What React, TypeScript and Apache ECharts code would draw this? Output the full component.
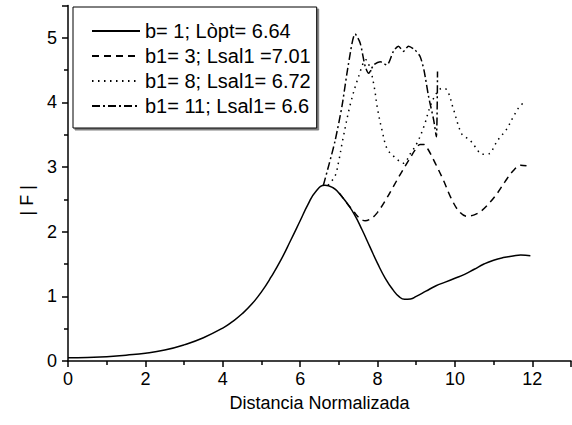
import React, { useEffect, useRef } from "react";
import * as echarts from "echarts";

const solidX = [0, 0.5, 1, 1.5, 2, 2.5, 3, 3.5, 4, 4.25, 4.5, 4.75, 5, 5.25, 5.5, 5.75, 6, 6.2, 6.4, 6.64, 6.85, 7.0, 7.2, 7.4, 7.6, 7.8, 8.0, 8.2, 8.4, 8.55, 8.7, 8.85, 9.0, 9.25, 9.5, 9.75, 10, 10.25, 10.5, 10.75, 11, 11.25, 11.5, 11.7, 11.95];
const solidY = [0.05, 0.055, 0.065, 0.09, 0.12, 0.17, 0.25, 0.36, 0.51, 0.61, 0.73, 0.88, 1.07, 1.3, 1.56, 1.86, 2.17, 2.42, 2.62, 2.72, 2.68, 2.6, 2.45, 2.27, 2.03, 1.77, 1.51, 1.28, 1.1, 1.0, 0.955, 0.96, 1.0, 1.08, 1.16, 1.22, 1.28, 1.34, 1.42, 1.5, 1.56, 1.6, 1.625, 1.64, 1.63];

const dashX = [7.01, 7.2, 7.4, 7.55, 7.68, 7.85, 8.0, 8.2, 8.4, 8.6, 8.8, 9.0, 9.1, 9.2, 9.3, 9.5, 9.7, 9.9, 10.1, 10.3, 10.5, 10.7, 10.9, 11.1, 11.3, 11.5, 11.7, 11.85];
const dashY = [2.6, 2.45, 2.3, 2.2, 2.17, 2.21, 2.3, 2.48, 2.69, 2.9, 3.1, 3.29, 3.35, 3.35, 3.28, 3.05, 2.8, 2.52, 2.32, 2.24, 2.26, 2.33, 2.45, 2.6, 2.78, 2.94, 3.03, 3.02];

const dotX = [6.72, 6.9, 7.0, 7.1, 7.3, 7.5, 7.7, 7.82, 7.92, 8.0, 8.12, 8.25, 8.45, 8.67, 8.85, 9.02, 9.2, 9.35, 9.5, 9.67, 9.8, 9.96, 10.18, 10.38, 10.53, 10.7, 10.9, 11.02, 11.15, 11.33, 11.52, 11.65, 11.8];
const dotY = [2.72, 2.86, 3.1, 3.42, 3.98, 4.38, 4.66, 4.5, 4.22, 3.9, 3.56, 3.28, 3.15, 3.06, 3.21, 3.37, 3.63, 3.92, 4.12, 4.22, 4.19, 3.9, 3.51, 3.42, 3.31, 3.2, 3.21, 3.33, 3.45, 3.58, 3.79, 3.92, 4.01];

const ddX = [6.6, 6.75, 6.9, 7.08, 7.25, 7.42, 7.55, 7.68, 7.77, 7.9, 8.07, 8.24, 8.41, 8.54, 8.67, 8.8, 8.97, 9.1, 9.2, 9.32, 9.45, 9.52, 9.55];
const ddY = [2.72, 3.05, 3.4, 3.94, 4.6, 5.06, 4.92, 4.56, 4.45, 4.58, 4.63, 4.58, 4.79, 4.87, 4.79, 4.87, 4.81, 4.71, 4.5, 4.09, 3.73, 3.47, 4.48];

const seriesNames = [
  "b= 1; Lòpt= 6.64",
  "b1= 3; Lsal1 =7.01",
  "b1= 8; Lsal1= 6.72",
  "b1= 11; Lsal1= 6.6",
];

const xTitle = "Distancia Normalizada";
const yTitle = "| F |";

const zip = (xs: number[], ys: number[]) => xs.map((x, i) => [x, ys[i]]);

const FONT = "'Liberation Sans', Arial, Helvetica, sans-serif";

export default function App() {
  const ref = useRef<HTMLDivElement>(null);
  useEffect(() => {
    if (!ref.current) return;
    const chart = echarts.init(ref.current, undefined, { renderer: "svg" });
    const axisCommon = {
      axisLine: { show: true, onZero: false, lineStyle: { color: "#000", width: 1.5 } },
      axisTick: { show: true, inside: false, length: 6, lineStyle: { color: "#000", width: 1.5 } },
      minorTick: { show: true, splitNumber: 2, length: 4, lineStyle: { color: "#000", width: 1.5 } },
      splitLine: { show: false },
      minorSplitLine: { show: false },
      nameTextStyle: { color: "#000", fontSize: 18, fontFamily: FONT },
    };
    const lineSeries = (name: string, data: number[][], type: any, smooth: number) => ({
      name,
      type: "line",
      data,
      symbol: "none",
      showSymbol: false,
      smooth,
      lineStyle: { color: "#000", width: 1.5, type },
      itemStyle: { color: "#000" },
    });
    chart.setOption({
      animation: false,
      backgroundColor: "#fff",
      grid: { left: 68, right: 1, top: 5.5, bottom: 64, containLabel: false },
      legend: {
        orient: "vertical",
        left: 73,
        top: 7,
        data: seriesNames,
        itemWidth: 48,
        itemHeight: 14,
        itemGap: 5,
        padding: [14, 6, 12, 18],
        borderColor: "#000",
        borderWidth: 1,
        backgroundColor: "#fff",
        shadowColor: "rgba(0,0,0,0.5)",
        shadowOffsetX: 2,
        shadowOffsetY: 2,
        shadowBlur: 1,
        itemStyle: { color: "transparent", borderColor: "transparent", borderWidth: 0, opacity: 0 },
        textStyle: { color: "#000", fontSize: 20, fontFamily: FONT },
      },
      xAxis: {
        type: "value",
        min: 0,
        max: 13,
        interval: 2,
        name: xTitle,
        nameLocation: "middle",
        nameGap: 33,
        ...axisCommon,
        axisLabel: { color: "#000", fontSize: 18, fontFamily: FONT, margin: 9, showMaxLabel: false },
      },
      yAxis: {
        type: "value",
        min: 0,
        max: 5.5,
        interval: 1,
        name: yTitle,
        nameLocation: "middle",
        nameGap: 27,
        ...axisCommon,
        nameTextStyle: { color: "#000", fontSize: 18, fontFamily: FONT, padding: [0, 34, 0, 0] },
        axisLabel: { color: "#000", fontSize: 18, fontFamily: FONT, margin: 11, showMaxLabel: false },
      },
      series: [
        lineSeries(seriesNames[0], zip(solidX, solidY), "solid", 0.5),
        lineSeries(seriesNames[1], zip(dashX, dashY), [7, 5], 0.35),
        lineSeries(seriesNames[2], zip(dotX, dotY), [1.5, 4.5], 0.35),
        lineSeries(seriesNames[3], zip(ddX, ddY), [8, 3, 2, 3], 0.25),
      ],
    });
    return () => chart.dispose();
  }, []);
  return (
    <div
      ref={ref}
      style={{ position: "fixed", left: 0, top: 0, width: 572, height: 425, background: "#fff" }}
    />
  );
}
